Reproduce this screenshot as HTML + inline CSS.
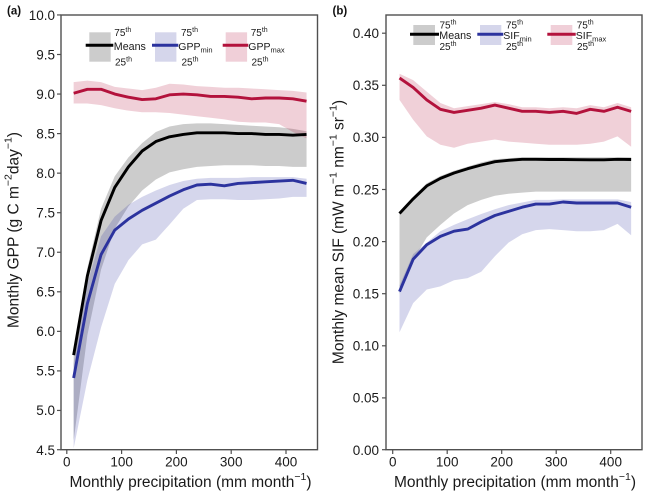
<!DOCTYPE html>
<html><head><meta charset="utf-8"><style>
html,body{margin:0;padding:0;background:#fff;}
svg{display:block;font-family:"Liberation Sans",Arial,sans-serif;}
</style></head><body>
<svg width="650" height="497" viewBox="0 0 650 497" xmlns="http://www.w3.org/2000/svg">
<rect width="650" height="497" fill="#fff"/>

<!-- ===== Panel A ===== -->
<g>
<polygon fill="rgba(128,128,128,0.4)" points="73.65,351.12 87.35,268.07 101.05,208.74 114.75,176.31 128.45,157.33 142.15,143.09 155.85,132.02 169.55,126.48 183.25,124.11 196.95,123.32 210.65,123.32 224.35,124.11 238.05,124.90 251.75,125.69 265.45,126.48 279.15,127.27 292.85,128.85 306.55,131.22 306.55,166.82 292.85,166.82 279.15,166.03 265.45,166.03 251.75,165.24 238.05,165.24 224.35,165.24 210.65,166.03 196.95,166.82 183.25,169.19 169.55,172.36 155.85,179.48 142.15,190.55 128.45,206.37 114.75,228.52 101.05,269.65 87.35,335.30 73.65,440.51"/>
<polygon fill="rgba(44,51,158,0.2)" points="73.65,362.99 87.35,283.89 101.05,236.43 114.75,216.65 128.45,204.79 142.15,196.88 155.85,190.55 169.55,185.01 183.25,181.06 196.95,178.70 210.65,177.91 224.35,177.91 238.05,177.91 251.75,177.12 265.45,177.12 279.15,177.12 292.85,177.12 306.55,178.70 306.55,196.88 292.85,196.88 279.15,198.46 265.45,199.25 251.75,200.04 238.05,200.04 224.35,199.25 210.65,199.25 196.95,200.04 183.25,208.74 169.55,224.56 155.85,239.59 142.15,244.34 128.45,260.16 114.75,283.89 101.05,327.39 87.35,380.39 73.65,448.42"/>
<polygon fill="rgba(179,18,60,0.2)" points="73.65,82.18 87.35,80.60 101.05,82.18 114.75,86.93 128.45,88.51 142.15,90.10 155.85,87.72 169.55,83.77 183.25,84.56 196.95,86.14 210.65,86.93 224.35,87.72 238.05,87.72 251.75,88.51 265.45,89.30 279.15,90.10 292.85,90.89 306.55,92.47 306.55,138.35 292.85,132.02 279.15,124.11 265.45,122.53 251.75,122.53 238.05,121.74 224.35,119.36 210.65,117.78 196.95,116.2 183.25,114.62 169.55,113.03 155.85,112.24 142.15,112.24 128.45,110.66 114.75,108.29 101.05,105.12 87.35,103.54 73.65,103.54"/>

<polyline fill="none" stroke="#000" stroke-width="2.9" stroke-linejoin="round" points="73.65,355.08 87.35,275.98 101.05,220.61 114.75,187.39 128.45,166.82 142.15,151.0 155.85,141.51 169.55,136.76 183.25,134.39 196.95,132.81 210.65,132.81 224.35,132.81 238.05,133.60 251.75,133.60 265.45,134.39 279.15,134.39 292.85,135.18 306.55,134.39"/>
<polyline fill="none" stroke="#2c339e" stroke-width="2.9" stroke-linejoin="round" points="73.65,378.02 87.35,303.66 101.05,254.62 114.75,230.10 128.45,219.03 142.15,210.33 155.85,203.21 169.55,196.09 183.25,189.76 196.95,185.01 210.65,184.22 224.35,185.80 238.05,183.43 251.75,182.64 265.45,181.85 279.15,181.06 292.85,180.27 306.55,183.43"/>
<polyline fill="none" stroke="#b3123c" stroke-width="2.9" stroke-linejoin="round" points="73.65,93.26 87.35,89.30 101.05,89.30 114.75,94.05 128.45,97.21 142.15,99.58 155.85,98.79 169.55,94.84 183.25,94.05 196.95,94.84 210.65,96.42 224.35,96.42 238.05,97.21 251.75,98.79 265.45,98.0 279.15,98.0 292.85,98.79 306.55,101.17"/>

<!-- frame -->
<rect x="61" y="15" width="256.5" height="434.7" fill="none" stroke="#505050" stroke-width="1.4"/>
<g stroke="#505050" stroke-width="1.2">
<line x1="57" y1="14.95" x2="61" y2="14.95"/><line x1="57" y1="54.5" x2="61" y2="54.5"/>
<line x1="57" y1="94.05" x2="61" y2="94.05"/><line x1="57" y1="133.6" x2="61" y2="133.6"/>
<line x1="57" y1="173.15" x2="61" y2="173.15"/><line x1="57" y1="212.7" x2="61" y2="212.7"/>
<line x1="57" y1="252.25" x2="61" y2="252.25"/><line x1="57" y1="291.8" x2="61" y2="291.8"/>
<line x1="57" y1="331.35" x2="61" y2="331.35"/><line x1="57" y1="370.9" x2="61" y2="370.9"/>
<line x1="57" y1="410.45" x2="61" y2="410.45"/><line x1="57" y1="449.7" x2="61" y2="449.7"/>
<line x1="66.8" y1="449.7" x2="66.8" y2="454"/><line x1="121.6" y1="449.7" x2="121.6" y2="454"/>
<line x1="176.4" y1="449.7" x2="176.4" y2="454"/><line x1="231.2" y1="449.7" x2="231.2" y2="454"/>
<line x1="286" y1="449.7" x2="286" y2="454"/>
</g>
<g font-size="13.5" fill="#1a1a1a" text-anchor="end">
<text x="55" y="19.8">10.0</text><text x="55" y="59.3">9.5</text><text x="55" y="98.9">9.0</text>
<text x="55" y="138.4">8.5</text><text x="55" y="178">8.0</text><text x="55" y="217.5">7.5</text>
<text x="55" y="257">7.0</text><text x="55" y="296.6">6.5</text><text x="55" y="336.1">6.0</text>
<text x="55" y="375.7">5.5</text><text x="55" y="415.2">5.0</text><text x="55" y="454.8">4.5</text>
</g>
<g font-size="13.5" fill="#1a1a1a" text-anchor="middle">
<text x="66.8" y="466.5">0</text><text x="121.6" y="466.5">100</text><text x="176.4" y="466.5">200</text>
<text x="231.2" y="466.5">300</text><text x="286" y="466.5">400</text>
</g>
<text x="190.5" y="487" font-size="15.5" fill="#1a1a1a" text-anchor="middle">Monthly precipitation (mm month<tspan font-size="10.5" dy="-7">−1</tspan><tspan dy="7">)</tspan></text>
<text transform="translate(18.5,230) rotate(-90)" font-size="15.5" fill="#1a1a1a" text-anchor="middle">Monthly GPP (g C m<tspan font-size="10.5" dy="-7">−2</tspan><tspan dy="7">day</tspan><tspan font-size="10.5" dy="-7">−1</tspan><tspan dy="7">)</tspan></text>
<text x="7" y="14.5" font-size="11.5" font-weight="bold" fill="#111">(a)</text>

<!-- legend a -->
<rect x="89.3" y="32.3" width="21.4" height="29.4" fill="#cccccc"/>
<line x1="85.7" y1="45.3" x2="113.3" y2="45.3" stroke="#000" stroke-width="3"/>
<rect x="155" y="32.3" width="21.4" height="29.4" fill="#d5d6eb"/>
<line x1="152" y1="45.3" x2="178.3" y2="45.3" stroke="#2c339e" stroke-width="3"/>
<rect x="225.7" y="32.3" width="21.4" height="29.4" fill="#f0cfd8"/>
<line x1="222.7" y1="45.3" x2="248.3" y2="45.3" stroke="#b3123c" stroke-width="3"/>
<g fill="#1a1a1a">
<text x="114.3" y="36" font-size="10">75<tspan font-size="7" dy="-4">th</tspan></text>
<text x="113.8" y="50" font-size="10.7">Means</text>
<text x="115" y="65.7" font-size="10">25<tspan font-size="7" dy="-4">th</tspan></text>
<text x="181" y="36" font-size="10">75<tspan font-size="7" dy="-4">th</tspan></text>
<text x="178.3" y="50" font-size="10.5">GPP<tspan font-size="7.5" dy="2.5">min</tspan></text>
<text x="181.5" y="65.7" font-size="10">25<tspan font-size="7" dy="-4">th</tspan></text>
<text x="250.7" y="36" font-size="10">75<tspan font-size="7" dy="-4">th</tspan></text>
<text x="248.3" y="50" font-size="10.5">GPP<tspan font-size="7.5" dy="2.5">max</tspan></text>
<text x="251.5" y="65.7" font-size="10">25<tspan font-size="7" dy="-4">th</tspan></text>
</g>
</g>

<!-- ===== Panel B ===== -->
<g>
<polygon fill="rgba(128,128,128,0.4)" points="399.51,212.9 413.14,196.8 426.76,183.2 440.39,176.0 454.01,170.7 467.64,166.6 481.26,162.4 494.89,159.3 508.51,158.2 522.14,157.2 535.76,157.2 549.39,157.2 563.01,157.2 576.64,157.2 590.26,157.2 603.89,157.2 617.51,157.2 631.14,157.2 631.14,191.6 617.51,191.6 603.89,191.6 590.26,191.6 576.64,191.6 563.01,191.6 549.39,191.6 535.76,191.6 522.14,192.6 508.51,193.7 494.89,195.8 481.26,199.9 467.64,205.1 454.01,213.5 440.39,224.9 426.76,237.4 413.14,260.4 399.51,293.7"/>
<polygon fill="rgba(44,51,158,0.2)" points="399.51,285.4 413.14,254.1 426.76,242.6 440.39,231.2 454.01,224.9 467.64,219.2 481.26,214.0 494.89,209.3 508.51,205.1 522.14,202.5 535.76,199.9 549.39,199.9 563.01,199.4 576.64,199.4 590.26,199.4 603.89,199.4 617.51,199.4 631.14,202.0 631.14,235.3 617.51,223.9 603.89,230.1 590.26,231.2 576.64,231.2 563.01,230.1 549.39,229.1 535.76,230.1 522.14,234.3 508.51,242.6 494.89,256.2 481.26,271.8 467.64,278.1 454.01,280.2 440.39,286.4 426.76,289.5 413.14,303.1 399.51,332.3"/>
<polygon fill="rgba(179,18,60,0.2)" points="399.51,73.8 413.14,80.1 426.76,91.6 440.39,103.0 454.01,108.2 467.64,106.1 481.26,104.1 494.89,102.0 508.51,104.1 522.14,107.2 535.76,107.2 549.39,108.2 563.01,107.2 576.64,108.2 590.26,105.1 603.89,107.2 617.51,103.0 631.14,107.2 631.14,146.8 617.51,136.4 603.89,141.6 590.26,143.7 576.64,144.7 563.01,144.7 549.39,144.7 535.76,143.7 522.14,142.6 508.51,141.6 494.89,139.5 481.26,141.6 467.64,143.7 454.01,147.8 440.39,144.7 426.76,136.4 413.14,119.7 399.51,99.9"/>

<polyline fill="none" stroke="#000" stroke-width="2.9" stroke-linejoin="round" points="399.51,213.5 413.14,198.9 426.76,185.9 440.39,178.4 454.01,173.0 467.64,168.7 481.26,165.0 494.89,161.7 508.51,160.3 522.14,159.3 535.76,159.3 549.39,159.5 563.01,159.5 576.64,159.7 590.26,159.8 603.89,159.8 617.51,159.3 631.14,159.5"/>
<polyline fill="none" stroke="#2c339e" stroke-width="2.9" stroke-linejoin="round" points="399.51,291.6 413.14,259.3 426.76,244.7 440.39,236.4 454.01,231.2 467.64,229.1 481.26,221.8 494.89,215.5 508.51,211.4 522.14,207.2 535.76,204.1 549.39,204.1 563.01,202.0 576.64,203.0 590.26,203.0 603.89,203.0 617.51,203.0 631.14,207.2"/>
<polyline fill="none" stroke="#b3123c" stroke-width="2.9" stroke-linejoin="round" points="399.51,78.0 413.14,87.4 426.76,99.9 440.39,109.3 454.01,112.4 467.64,110.3 481.26,108.2 494.89,105.1 508.51,108.2 522.14,111.35 535.76,111.35 549.39,112.4 563.01,111.35 576.64,113.4 590.26,109.3 603.89,111.35 617.51,107.2 631.14,111.35"/>

<rect x="386" y="15" width="256" height="434.7" fill="none" stroke="#505050" stroke-width="1.4"/>
<g stroke="#505050" stroke-width="1.2">
<line x1="382" y1="33.2" x2="386" y2="33.2"/><line x1="382" y1="85.3" x2="386" y2="85.3"/>
<line x1="382" y1="137.4" x2="386" y2="137.4"/><line x1="382" y1="189.5" x2="386" y2="189.5"/>
<line x1="382" y1="241.6" x2="386" y2="241.6"/><line x1="382" y1="293.7" x2="386" y2="293.7"/>
<line x1="382" y1="345.8" x2="386" y2="345.8"/><line x1="382" y1="397.9" x2="386" y2="397.9"/>
<line x1="382" y1="449.7" x2="386" y2="449.7"/>
<line x1="392.7" y1="449.7" x2="392.7" y2="454"/><line x1="447.2" y1="449.7" x2="447.2" y2="454"/>
<line x1="501.7" y1="449.7" x2="501.7" y2="454"/><line x1="556.2" y1="449.7" x2="556.2" y2="454"/>
<line x1="610.7" y1="449.7" x2="610.7" y2="454"/>
</g>
<g font-size="13.5" fill="#1a1a1a" text-anchor="end">
<text x="379" y="38">0.40</text><text x="379" y="90.1">0.35</text><text x="379" y="142.2">0.30</text>
<text x="379" y="194.3">0.25</text><text x="379" y="246.4">0.20</text><text x="379" y="298.5">0.15</text>
<text x="379" y="350.6">0.10</text><text x="379" y="402.7">0.05</text><text x="379" y="454.8">0.00</text>
</g>
<g font-size="13.5" fill="#1a1a1a" text-anchor="middle">
<text x="392.7" y="466.5">0</text><text x="447.2" y="466.5">100</text><text x="501.7" y="466.5">200</text>
<text x="556.2" y="466.5">300</text><text x="610.7" y="466.5">400</text>
</g>
<text x="515" y="487" font-size="15.5" fill="#1a1a1a" text-anchor="middle">Monthly precipitation (mm month<tspan font-size="10.5" dy="-7">−1</tspan><tspan dy="7">)</tspan></text>
<text transform="translate(343.5,232) rotate(-90)" font-size="15.5" fill="#1a1a1a" text-anchor="middle">Monthly mean SIF (mW m<tspan font-size="10.5" dy="-7">−1</tspan><tspan dy="7"> nm</tspan><tspan font-size="10.5" dy="-7">−1</tspan><tspan dy="7"> sr</tspan><tspan font-size="10.5" dy="-7">−1</tspan><tspan dy="7">)</tspan></text>
<text x="332.5" y="14.5" font-size="11.5" font-weight="bold" fill="#111">(b)</text>

<!-- legend b -->
<rect x="413.3" y="25" width="21.7" height="20" fill="#cccccc"/>
<line x1="410" y1="34.3" x2="439" y2="34.3" stroke="#000" stroke-width="3"/>
<rect x="480" y="25" width="21.3" height="20" fill="#d5d6eb"/>
<line x1="477.3" y1="34.3" x2="503.3" y2="34.3" stroke="#2c339e" stroke-width="3"/>
<rect x="550.7" y="25" width="21.6" height="20" fill="#f0cfd8"/>
<line x1="547.3" y1="34.3" x2="575.7" y2="34.3" stroke="#b3123c" stroke-width="3"/>
<g fill="#1a1a1a">
<text x="439.5" y="28.5" font-size="10">75<tspan font-size="7" dy="-4">th</tspan></text>
<text x="439.3" y="39" font-size="10.7">Means</text>
<text x="439.5" y="50" font-size="10">25<tspan font-size="7" dy="-4">th</tspan></text>
<text x="506" y="28.5" font-size="10">75<tspan font-size="7" dy="-4">th</tspan></text>
<text x="503.3" y="39" font-size="10.5">SIF<tspan font-size="7.5" dy="2.5">min</tspan></text>
<text x="506" y="50" font-size="10">25<tspan font-size="7" dy="-4">th</tspan></text>
<text x="576.7" y="28.5" font-size="10">75<tspan font-size="7" dy="-4">th</tspan></text>
<text x="575.8" y="39" font-size="10.5">SIF<tspan font-size="7.5" dy="2.5">max</tspan></text>
<text x="577" y="50" font-size="10">25<tspan font-size="7" dy="-4">th</tspan></text>
</g>
</g>
</svg>
</body></html>
